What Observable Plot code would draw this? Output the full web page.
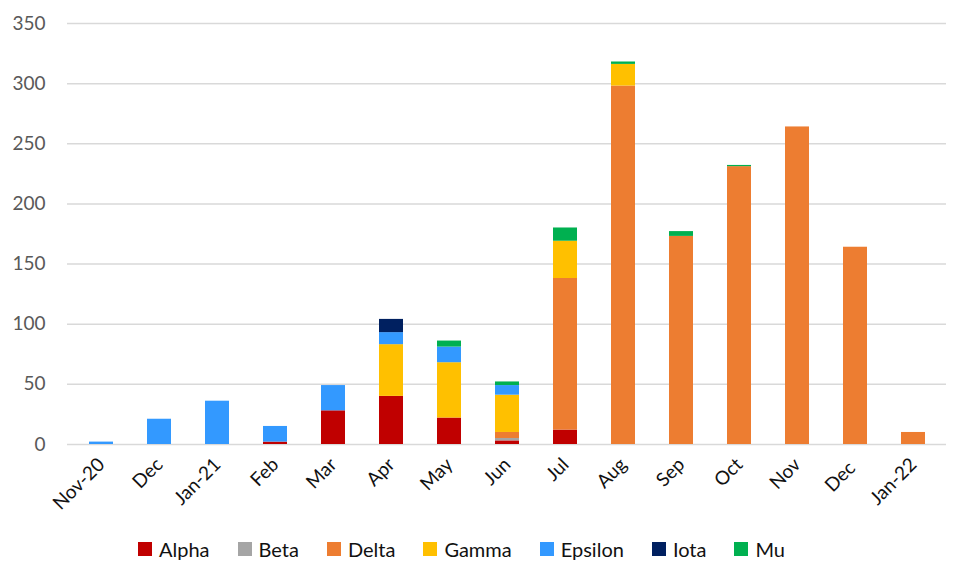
<!DOCTYPE html>
<html><head><meta charset="utf-8">
<script src="https://cdn.jsdelivr.net/npm/d3@7"></script>
<script src="https://cdn.jsdelivr.net/npm/@observablehq/plot@0.6"></script>
<style>
body{margin:0;background:#fff;font-family:Lato,"Open Sans",sans-serif;}
#legend{display:flex;justify-content:center;gap:28px;font-size:20px;color:#111;margin-top:7px;padding-right:30px;}
#legend span{display:inline-flex;align-items:center;gap:7px;}
#legend i{display:inline-block;width:14px;height:14px;}
</style></head><body>
<div id="chart"></div>
<div id="legend"></div>
<script>
const months = ["Nov-20","Dec","Jan-21","Feb","Mar","Apr","May","Jun","Jul","Aug","Sep","Oct","Nov","Dec ","Jan-22"];
const seriesNames = ["Alpha","Beta","Delta","Gamma","Epsilon","Iota","Mu"];
const colors = ["#C00000","#A5A5A5","#ED7D31","#FFC000","#3399FF","#002060","#00B050"];
const alpha   = [0,0,0,2,28,40,22,3,12,0,0,0,0,0,0];
const beta    = [0,0,0,0,0,0,0,2,0,0,0,0,0,0,0];
const delta   = [0,0,0,0,0,0,0,5,126,298,173,231,264,164,10];
const gamma   = [0,0,0,0,0,43,46,31,31,18,0,0,0,0,0];
const epsilon = [2,21,36,13,21,10,13,8,0,0,0,0,0,0,0];
const iota    = [0,0,0,0,0,11,0,0,0,0,0,0,0,0,0];
const mu      = [0,0,0,0,0,0,5,3,11,2,4,1,0,0,0];
const yTicks = [0,50,100,150,200,250,300,350];

const seriesValues = [alpha,beta,delta,gamma,epsilon,iota,mu];
const data = months.flatMap((m,i)=>seriesNames.map((s,j)=>({month:m, variant:s, value:seriesValues[j][i]})));

const chart = Plot.plot({
  width:953, height:530,
  marginTop:23, marginBottom:86, marginLeft:67, marginRight:7,
  style:{fontFamily:"Lato, 'Open Sans', sans-serif", fontSize:"18px", color:"#595959", background:"#fff"},
  x:{domain:months, paddingInner:0.59, paddingOuter:0.295, align:0.5, label:null},
  y:{domain:[0,350], label:null},
  color:{domain:seriesNames, range:colors},
  marks:[
    Plot.ruleY(yTicks,{stroke:"#d9d9d9", strokeWidth:1.5}),
    Plot.barY(data,{x:"month", y:"value", fill:"variant", order:seriesNames}),
    Plot.axisY(yTicks,{tickSize:0, tickPadding:22, fill:"#595959", fontSize:19, label:null}),
    Plot.axisX({tickSize:0, tickRotate:-45, tickPadding:17, fill:"#111", fontSize:19, label:null})
  ]
});
document.getElementById("chart").appendChild(chart);
const lg = document.getElementById("legend");
seriesNames.forEach((s,i)=>{
  const sp=document.createElement("span");
  sp.innerHTML=`<i style="background:${colors[i]}"></i>${s}`;
  lg.appendChild(sp);
});
</script>
</body></html>
